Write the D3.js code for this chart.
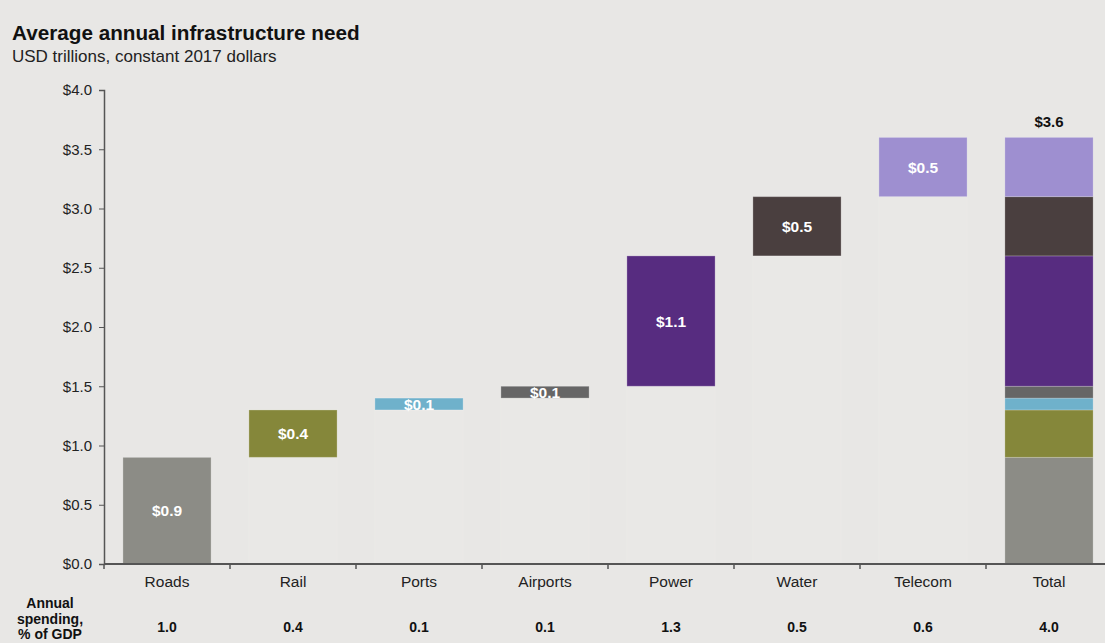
<!DOCTYPE html>
<html>
<head>
<meta charset="utf-8">
<script src="https://cdn.jsdelivr.net/npm/d3@7"></script>
<style>
  body { margin: 0; background: #e8e7e5; font-family: "Liberation Sans", Arial, sans-serif; }
  svg { display: block; }
</style>
</head>
<body>
<div id="chart"></div>
<script>
// Data
const categories = ["Roads", "Rail", "Ports", "Airports", "Power", "Water", "Telecom"];
const values = [0.9, 0.4, 0.1, 0.1, 1.1, 0.5, 0.5];
const gdpShare = ["1.0", "0.4", "0.1", "0.1", "1.3", "0.5", "0.6", "4.0"];
const colors = ["#8c8c86", "#85873a", "#6fb1cb", "#666666", "#572c80", "#4a3f3f", "#9e8fd0"];
const yTicks = [0, 0.5, 1.0, 1.5, 2.0, 2.5, 3.0, 3.5, 4.0];
const totalLabel = "Total";

const W = 1105, H = 643;
const margin = {top: 90, right: -7, bottom: 79, left: 104},
      width = W - margin.left - margin.right,
      height = H - margin.top - margin.bottom;

const svg = d3.select("#chart")
    .append("svg")
    .attr("width", W)
    .attr("height", H);

// Title
svg.append("text")
    .attr("x", 12).attr("y", 40)
    .style("font-size", "20.7px")
    .style("font-weight", "bold")
    .style("fill", "#111")
    .text("Average annual infrastructure need");
svg.append("text")
    .attr("x", 12).attr("y", 62)
    .style("font-size", "17px")
    .style("fill", "#222")
    .text("USD trillions, constant 2017 dollars");

const g = svg.append("g")
    .attr("transform", `translate(${margin.left},${margin.top})`);

// running totals for the waterfall
let run = 0;
const steps = categories.map((c, i) => {
    const d = {cat: c, start: run, end: run + values[i], v: values[i], color: colors[i]};
    run += values[i];
    return d;
});
const total = run;

const x = d3.scaleBand()
    .domain([...categories, totalLabel])
    .range([0, width])
    .paddingInner(0.3)
    .paddingOuter(0.15);

const y = d3.scaleLinear()
    .domain([0, 4])
    .range([height, 0]);

// faint base bars under floating bars
g.selectAll(".base")
    .data(steps.slice(1))
    .join("rect")
    .attr("x", d => x(d.cat))
    .attr("width", x.bandwidth())
    .attr("y", d => y(d.start))
    .attr("height", d => y(0) - y(d.start))
    .attr("fill", "#e9e8e6")
    .attr("stroke", "#eae9e7")
    .attr("stroke-width", 1);

// floating bars
g.selectAll(".step")
    .data(steps)
    .join("rect")
    .attr("x", d => x(d.cat))
    .attr("width", x.bandwidth())
    .attr("y", d => y(d.end))
    .attr("height", d => y(d.start) - y(d.end))
    .attr("fill", d => d.color)
    .attr("stroke", "rgba(255,255,255,0.25)")
    .attr("stroke-width", 1);

// stacked total bar
g.selectAll(".stack")
    .data(steps)
    .join("rect")
    .attr("x", x(totalLabel))
    .attr("width", x.bandwidth())
    .attr("y", d => y(d.end))
    .attr("height", d => y(d.start) - y(d.end))
    .attr("fill", d => d.color)
    .attr("stroke", "rgba(255,255,255,0.2)")
    .attr("stroke-width", 1);

// bar labels
g.selectAll(".lbl")
    .data(steps)
    .join("text")
    .attr("x", d => x(d.cat) + x.bandwidth() / 2)
    .attr("y", d => (y(d.start) + y(d.end)) / 2)
    .attr("dy", "0.36em")
    .attr("text-anchor", "middle")
    .style("font-size", "15.5px")
    .style("font-weight", "bold")
    .style("fill", "#fff")
    .text(d => "$" + d.v.toFixed(1));

g.append("text")
    .attr("x", x(totalLabel) + x.bandwidth() / 2)
    .attr("y", y(total) - 10)
    .attr("text-anchor", "middle")
    .style("font-size", "15px")
    .style("font-weight", "bold")
    .style("fill", "#111")
    .text("$" + total.toFixed(1));

// Y axis
const yAxis = g.append("g")
    .call(d3.axisLeft(y).tickValues(yTicks).tickFormat(d => "$" + d.toFixed(1)).tickSize(5).tickPadding(7));
yAxis.selectAll("text").style("font-size", "15px").style("fill", "#222")
    .style("font-family", "'Liberation Sans', Arial, sans-serif");
yAxis.selectAll("line, path").attr("stroke", "#555");
yAxis.select(".domain").attr("stroke-width", 1.5);

// X axis with ticks at band boundaries
const xAxisG = g.append("g")
    .attr("transform", `translate(0,${height})`);
xAxisG.append("line")
    .attr("x1", 0).attr("x2", width)
    .attr("stroke", "#555").attr("stroke-width", 2);
const step = x.step();
const bounds = d3.range(0, x.domain().length + 1).map(i => i * step);
xAxisG.selectAll(".xt")
    .data(bounds)
    .join("line")
    .attr("x1", d => d).attr("x2", d => d)
    .attr("y1", 0).attr("y2", 5)
    .attr("stroke", "#555").attr("stroke-width", 1.5);
xAxisG.selectAll(".xl")
    .data(x.domain())
    .join("text")
    .attr("x", d => x(d) + x.bandwidth() / 2)
    .attr("y", 23)
    .attr("text-anchor", "middle")
    .style("font-size", "15.5px")
    .style("fill", "#222")
    .text(d => d);

// bottom row: annual spending
const labelLines = ["Annual", "spending,", "% of GDP"];
svg.append("text")
    .attr("text-anchor", "middle")
    .style("font-size", "14px")
    .style("font-weight", "bold")
    .style("fill", "#111")
    .selectAll("tspan")
    .data(labelLines)
    .join("tspan")
    .attr("x", 50)
    .attr("y", (d, i) => 608 + i * 15.5)
    .text(d => d);

g.selectAll(".gdp")
    .data(gdpShare)
    .join("text")
    .attr("x", (d, i) => x(x.domain()[i]) + x.bandwidth() / 2)
    .attr("y", 632 - margin.top)
    .attr("text-anchor", "middle")
    .style("font-size", "14px")
    .style("font-weight", "bold")
    .style("fill", "#111")
    .text(d => d);
</script>
</body>
</html>
